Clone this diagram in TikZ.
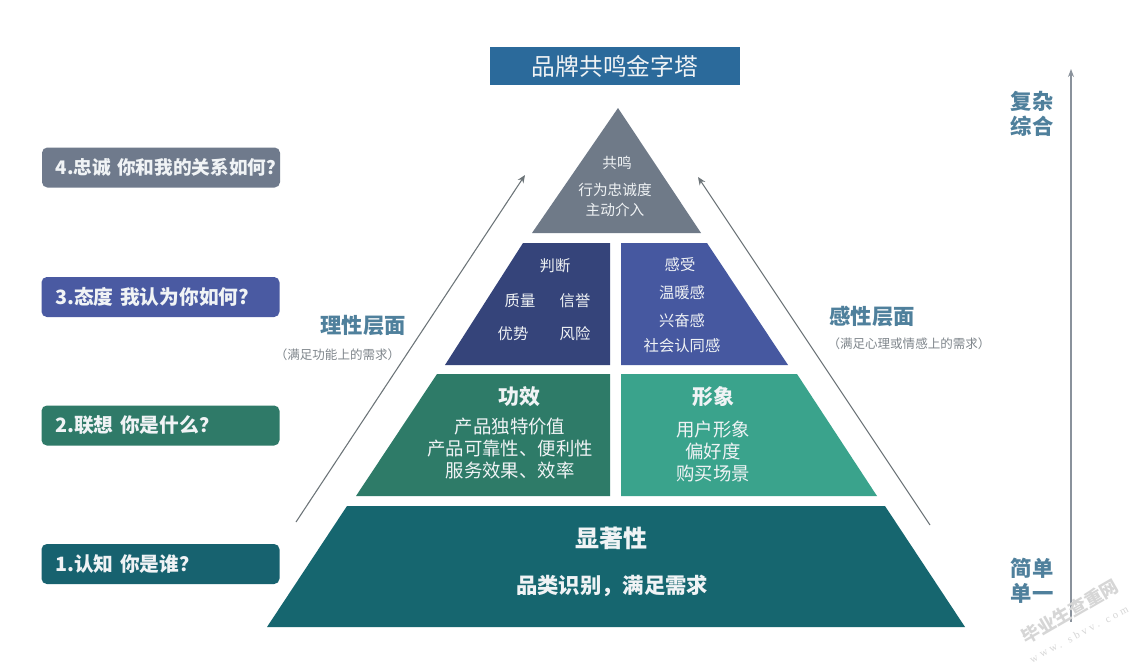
\documentclass[tikz,border=0pt]{standalone}
\usepackage{fontspec}
\setmainfont{Noto Sans CJK SC}
\newfontfamily\wmfont[LetterSpace=30]{Liberation Serif}
\usetikzlibrary{arrows.meta}
\definecolor{titleblue}{HTML}{2B6A9B}
\definecolor{topgray}{HTML}{6F7A88}
\definecolor{judge}{HTML}{35447A}
\definecolor{feel}{HTML}{4658A0}
\definecolor{effect}{HTML}{2E7B68}
\definecolor{imagec}{HTML}{3AA38C}
\definecolor{basec}{HTML}{16666F}
\definecolor{labgray}{HTML}{6F7A8C}
\definecolor{labblue}{HTML}{4A5AA2}
\definecolor{labgreen}{HTML}{2F7A68}
\definecolor{labteal}{HTML}{17626F}
\definecolor{sidetext}{HTML}{4F809C}
\definecolor{axisc}{HTML}{8A929C}
\definecolor{linec}{HTML}{6C7478}
\definecolor{wm}{HTML}{D6D6D6}
\definecolor{softwhite}{HTML}{F0F3F5}
\definecolor{notec}{HTML}{7F868C}
\tikzset{
  x=0.75pt,y=-0.75pt,
  tier/.style={draw=none},
  lab/.style={fill=#1,rounded corners=4pt,minimum height=30pt,text width=158pt,inner xsep=10.25pt,inner ysep=0pt,align=left,text=softwhite,font=\fontsize{14.8}{16}\selectfont\bfseries,anchor=center},
  inpyr/.style={text=softwhite,align=center,inner sep=0pt},
  small/.style={inpyr,font=\fontsize{11.5}{14}\selectfont},
  side/.style={text=sidetext,font=\fontsize{16}{18.5}\selectfont\bfseries,align=center,inner sep=0pt},
  note/.style={text=notec,font=\fontsize{9.4}{11}\selectfont,inner sep=0pt},
  riser/.style={draw=linec,line width=0.8pt,-{Stealth[length=6pt,width=5pt]}},
}
\begin{document}
\begin{tikzpicture}
\useasboundingbox (0,0) rectangle (1139,665);
\fill[white] (0,0) rectangle (1139,665);
% title
\node[fill=titleblue,text=softwhite,minimum width=187.5pt,minimum height=28.5pt,inner sep=0pt,font=\fontsize{17.8}{20}\selectfont] (title) at (615,66) {品牌共鸣金字塔};
% pyramid
\fill[tier,topgray] (618,108) -- (701,233) -- (532,233) -- cycle;
\fill[tier,judge] (523,243) -- (610,243) -- (610,365) -- (445,365) -- cycle;
\fill[tier,feel] (621,243) -- (707,243) -- (788,365) -- (621,365) -- cycle;
\fill[tier,effect] (437,374) -- (610,374) -- (610,496) -- (356,496) -- cycle;
\fill[tier,imagec] (621,374) -- (797,374) -- (877,496) -- (621,496) -- cycle;
\fill[tier,basec] (347,506) -- (885,506) -- (965,627) -- (267,627) -- cycle;
% top text
\node[inpyr,font=\fontsize{11}{13}\selectfont] (t1) at (617,163) {共鸣};
\node[inpyr,font=\fontsize{11}{15}\selectfont] (t2) at (615,200) {行为忠诚度\\主动介入};
% judge
\node[small] (j0) at (555,266) {判断};
\node[small] (j1) at (520,301) {质量};
\node[small] (j2) at (575,301) {信誉};
\node[small] (j3) at (513,334) {优势};
\node[small] (j4) at (575,334) {风险};
% feel
\node[small] (f0) at (680,265) {感受};
\node[small] (f1) at (682,293) {温暖感};
\node[small] (f2) at (682,321) {兴奋感};
\node[small] (f3) at (682,346) {社会认同感};
% effect
\node[inpyr,font=\fontsize{15.7}{18}\selectfont\bfseries] (e0) at (519,397) {功效};
\node[inpyr,font=\fontsize{13.8}{16.5}\selectfont] (e1) at (510,449) {产品独特价值\\产品可靠性、便利性\\服务效果、效率};
% image
\node[inpyr,font=\fontsize{15.7}{18}\selectfont\bfseries] (i0) at (713,397) {形象};
\node[inpyr,font=\fontsize{13.8}{16.5}\selectfont] (i1) at (713,451) {用户形象\\偏好度\\购买场景};
% base
\node[inpyr,font=\fontsize{18}{21}\selectfont\bfseries] (b0) at (611,538) {显著性};
\node[inpyr,font=\fontsize{16}{19}\selectfont\bfseries] (b1) at (612,586) {品类识别，满足需求};
% left labels
\node[lab=labgray,font=\fontsize{14}{16}\selectfont\bfseries] (l4) at (161,167.5) {\mbox{4.忠诚 你和我的关系如何？}};
\node[lab=labblue] (l3) at (160.5,297) {\mbox{3.态度 我认为你如何?}};
\node[lab=labgreen] (l2) at (160.5,425.5) {\mbox{2.联想 你是什么？}};
\node[lab=labteal] (l1) at (160.5,564) {\mbox{1.认知 你是谁？}};
% side texts
\node[side] (rl) at (363,326) {理性层面};
\node[note] (rn) at (337.5,355) {（满足功能上的需求）};
\node[side] (sl) at (872,316) {感性层面};
\node[note] (sn) at (909,344) {（满足心理或情感上的需求）};
\node[side] (top) at (1032,114) {复杂\\综合};
\node[side] (bot) at (1032,581) {简单\\单一};
% arrows
\coordinate (a1) at (296,522);
\coordinate (a2) at (525,175);
\coordinate (b1e) at (930,525);
\coordinate (b2) at (698,177);
\coordinate (v1) at (1071,622);
\coordinate (v2) at (1071,69);
\draw[riser] (a1) -- (a2);
\draw[riser] (b1e) -- (b2);
\draw[draw=axisc,line width=1pt,-{Stealth[length=6pt,width=4.5pt]}] (v1) -- (v2);
% watermark
\node[rotate=30,text=wm,font=\fontsize{13.5}{14}\selectfont\bfseries,inner sep=0pt] (wm1) at (1070,612) {毕业生查重网};
\node[rotate=28,text=wm,font=\wmfont\fontsize{8}{9}\selectfont,inner sep=0pt] (wm2) at (1079,634) {www. sbvv. com};
\end{tikzpicture}
\end{document}
